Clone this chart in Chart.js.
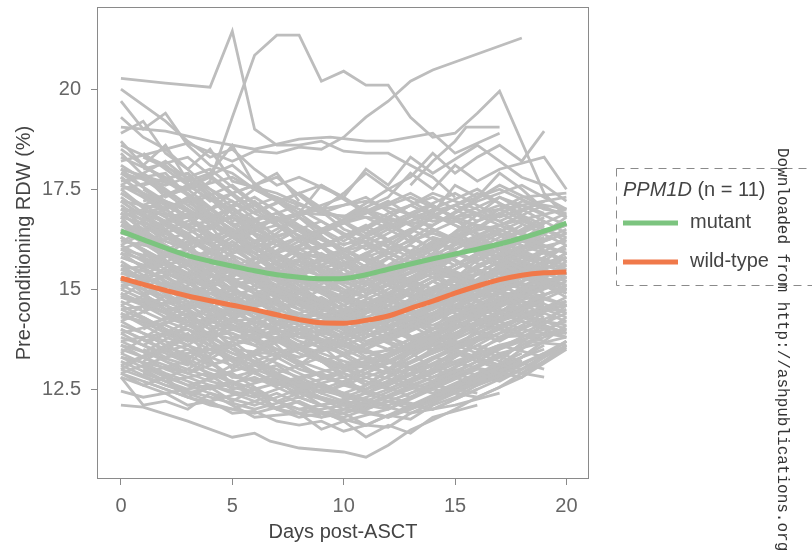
<!DOCTYPE html>
<html>
<head>
<meta charset="utf-8">
<script src="https://cdn.jsdelivr.net/npm/chart.js@4/dist/chart.umd.min.js"></script>
<style>
  html, body { margin: 0; padding: 0; background: #ffffff; }
  #wrap { position: relative; width: 812px; height: 550px; }
</style>
</head>
<body>
<div id="wrap"><canvas id="c" width="812" height="550"></canvas></div>
<script>
// Sampling days for the per-patient RDW trajectories
const days = [0, 2, 4, 6, 8, 10, 12, 14, 16, 18, 20];
const oddDays = [1, 3, 5, 7, 9, 11, 13, 15, 17, 19];
const sparseDays = [0, 3, 5, 8, 11, 14, 17, 20];
const fitDays = [0,1,2,3,4,5,6,7,8,9,10,11,12,13,14,15,16,17,18,19,20];
const xTicks = [0, 5, 10, 15, 20];
const yTicks = [12.5, 15, 17.5, 20];
const yTickLabels = ['12.5', '15', '17.5', '20'];

// Smoothed group trends (loess) by PPM1D status
const mutantFit = [16.45,16.24,16.03,15.84,15.70,15.58,15.46,15.36,15.30,15.26,15.27,15.36,15.50,15.63,15.76,15.88,16.00,16.13,16.28,16.45,16.65];
const wildTypeFit = [15.28,15.12,14.97,14.83,14.71,14.60,14.49,14.36,14.24,14.16,14.15,14.22,14.33,14.52,14.70,14.90,15.08,15.24,15.35,15.41,15.43];

// Patients measured on even days (null = no measurement)
const patientRDW = [
  [18.6,18.1,17.2,17.6,16.8,16.2,16.9,17.3,16.7,17.1,16.6],
  [18.4,17.3,17.8,16.9,17.4,16.5,16.1,16.8,17.4,16.9,null],
  [18.2,18.5,17.5,16.6,16.9,17.3,16.6,16.0,16.5,17.2,17.0],
  [18.0,17.1,16.5,17.2,16.3,15.8,16.4,17.0,17.5,16.8,16.2],
  [17.9,17.6,18.0,17.1,16.2,16.7,17.2,16.5,16.0,16.6,null],
  [17.8,16.9,16.3,15.9,16.5,15.6,15.2,15.9,16.7,17.3,17.4],
  [17.7,17.9,16.8,17.3,16.6,16.0,15.5,16.2,15.7,16.3,15.9],
  [17.6,17.0,17.4,16.4,15.8,16.3,16.8,17.4,17.0,16.4,16.9],
  [17.5,16.6,16.1,16.7,15.9,15.3,15.9,15.4,16.2,15.8,null],
  [18.5,17.7,17.0,16.2,15.6,15.9,15.2,15.6,16.1,15.5,15.8],
  [18.1,17.4,16.6,16.0,16.8,16.1,16.6,16.0,15.4,16.0,16.5],
  [17.6,18.2,17.3,16.7,17.1,16.8,17.5,16.9,16.3,null,null],
  [17.9,17.2,16.7,17.5,17.0,16.4,15.9,16.6,17.2,17.6,17.0],
  [18.3,17.8,16.9,16.4,16.0,15.5,16.2,15.7,15.2,15.9,15.6],
  [17.4,16.8,16.2,16.6,15.8,15.2,15.6,16.3,16.0,15.5,16.1],
  [17.3,16.5,16.9,15.9,15.4,15.8,15.1,15.5,16.2,16.7,16.3],
  [17.2,17.0,16.1,15.6,16.2,15.5,14.9,15.6,15.1,15.8,15.4],
  [17.1,16.3,15.7,16.1,15.3,14.8,15.4,16.0,16.6,16.1,null],
  [17.0,16.7,16.9,16.0,15.6,15.0,14.6,15.2,15.8,15.3,15.9],
  [16.9,16.1,15.5,15.0,15.7,15.2,15.8,15.3,14.8,15.5,15.0],
  [16.8,17.2,16.4,15.8,15.1,14.7,15.3,14.8,15.4,16.0,16.4],
  [16.7,16.0,15.6,16.2,15.5,15.9,15.2,15.7,16.3,15.7,null],
  [16.6,16.4,15.7,15.2,14.8,14.4,14.9,15.5,15.0,15.6,15.2],
  [16.5,15.8,16.2,15.4,15.0,15.5,14.8,14.5,15.1,14.8,15.3],
  [16.4,16.6,15.9,15.3,15.7,14.9,14.3,14.9,15.6,16.1,15.7],
  [16.3,15.6,15.1,15.6,14.9,14.5,15.0,15.6,15.2,14.7,null],
  [16.2,16.0,15.4,14.9,14.5,14.8,14.2,14.6,15.2,15.8,16.0],
  [17.0,16.2,15.8,15.1,14.6,14.2,14.7,15.3,15.9,15.4,15.0],
  [16.8,16.5,15.5,14.9,15.3,14.6,15.1,14.6,14.9,15.5,15.1],
  [16.6,15.9,15.3,15.8,15.2,14.7,14.3,14.8,15.4,15.0,15.6],
  [16.4,16.1,15.2,14.7,14.3,14.6,15.1,14.7,14.3,14.9,14.6],
  [16.9,16.6,16.0,15.4,14.8,14.3,14.0,14.6,15.2,15.7,15.3],
  [16.3,15.7,15.0,14.6,14.9,14.2,14.6,15.2,14.7,15.2,null],
  [17.2,16.4,15.6,15.2,14.5,14.1,14.5,14.1,14.6,15.2,15.8],
  [16.1,15.5,15.0,14.4,14.0,14.4,13.9,14.4,15.0,14.6,15.1],
  [16.0,15.7,14.8,14.3,14.7,14.1,13.7,14.2,14.8,15.3,14.9],
  [15.9,15.2,14.7,15.0,14.3,13.8,14.3,14.8,14.4,14.9,15.4],
  [15.8,15.4,15.1,14.5,13.9,13.6,14.0,14.5,15.1,14.7,null],
  [15.7,15.0,14.4,14.0,14.4,13.9,13.5,14.0,14.6,15.0,14.6],
  [15.6,15.3,14.6,14.2,13.8,14.2,14.6,14.2,14.7,15.2,15.5],
  [15.5,14.9,14.3,14.7,14.1,13.6,13.3,13.9,14.4,14.0,14.5],
  [15.4,15.1,14.5,13.9,13.5,13.9,14.3,14.8,14.3,14.8,15.2],
  [15.3,14.7,14.9,14.3,13.7,13.4,13.8,14.3,14.9,15.4,14.8],
  [15.2,14.8,14.2,13.8,14.2,13.7,13.2,13.6,14.2,14.6,14.2],
  [15.1,14.6,14.0,14.5,13.9,13.4,13.9,14.4,14.0,14.5,15.0],
  [15.0,14.5,14.6,14.0,13.5,13.1,13.5,14.0,14.6,14.2,null],
  [14.9,14.3,13.9,13.6,14.0,13.5,13.0,13.6,14.1,14.7,14.3],
  [14.8,14.6,14.1,13.7,13.3,13.6,14.0,13.5,14.0,14.4,14.0],
  [14.7,14.2,13.8,14.2,13.6,13.2,12.9,13.4,13.9,14.3,14.7],
  [14.6,14.0,13.6,13.2,13.6,13.0,13.4,13.9,13.5,14.0,13.8],
  [15.5,15.1,14.6,14.0,13.4,13.0,13.3,13.8,14.3,13.9,14.4],
  [15.3,14.7,14.2,13.9,14.3,14.0,14.4,14.0,14.5,15.0,15.3],
  [15.9,15.6,15.2,14.8,14.4,14.8,14.5,15.0,15.5,15.1,null],
  [16.0,15.4,14.9,15.2,14.7,14.3,14.7,14.3,14.8,15.4,15.0],
  [15.1,15.3,14.8,14.4,14.0,13.8,14.2,14.6,14.2,14.7,14.4],
  [14.8,14.4,14.9,14.5,14.1,14.5,14.1,14.5,15.0,14.6,15.1],
  [14.5,14.0,13.5,13.1,13.5,13.0,12.6,13.1,13.6,14.2,13.9],
  [14.4,13.8,13.4,13.8,13.2,12.8,13.2,13.7,13.3,13.8,14.2],
  [14.3,14.1,13.6,13.0,12.6,12.9,12.5,13.0,13.6,13.2,null],
  [14.2,13.6,13.1,13.4,12.9,12.4,12.8,13.3,13.8,14.3,13.9],
  [14.1,13.7,13.3,12.9,12.5,12.8,13.2,12.8,13.3,13.7,13.6],
  [14.0,13.5,13.0,12.7,13.1,12.6,12.3,12.7,13.2,13.0,null],
  [13.9,13.3,13.5,12.9,12.4,12.1,12.5,13.0,12.6,13.1,13.7],
  [13.8,13.4,12.9,12.5,12.8,12.3,12.7,12.4,12.9,13.4,null],
  [13.7,13.2,12.8,13.1,12.6,12.2,12.0,12.6,13.1,13.6,14.0],
  [13.6,13.0,12.6,12.3,12.7,12.4,12.1,12.5,13.0,12.8,13.6],
  [13.5,13.1,12.7,12.4,12.0,12.2,12.6,13.1,12.7,13.2,null],
  [13.4,12.9,12.5,12.8,12.3,11.9,12.3,12.8,13.3,12.9,13.7],
  [13.3,12.8,12.4,12.1,12.5,12.0,11.8,12.3,12.8,13.3,null],
  [13.2,12.7,12.9,12.4,12.0,11.8,12.2,12.0,12.5,13.0,13.6],
  [13.1,12.6,12.3,12.0,12.3,11.9,12.2,12.6,12.4,null,null],
  [13.0,12.6,12.2,12.5,11.9,12.1,11.8,12.2,12.7,13.2,null],
  [12.9,12.5,12.1,11.9,12.2,11.7,12.0,12.5,12.3,12.8,13.5],
  [12.8,12.4,12.6,12.2,11.8,12.0,12.3,12.0,12.5,null,null]
];

// Patients measured on odd days
const patientRDWOdd = [
  [18.4,17.6,18.1,17.2,17.6,16.9,17.4,16.8,17.3,16.9],
  [18.0,18.3,17.4,17.8,16.9,17.3,16.6,17.1,17.5,17.0],
  [17.8,17.1,17.6,16.7,17.0,16.4,16.9,17.4,16.8,17.2],
  [17.6,17.9,16.9,17.3,16.5,16.8,16.2,16.7,17.1,16.6],
  [17.4,16.8,17.2,16.3,16.7,16.0,16.5,16.0,16.6,16.1],
  [17.2,17.5,16.6,16.9,16.1,16.5,15.9,16.4,15.9,16.5],
  [17.0,16.4,16.8,15.9,16.3,15.7,16.1,15.6,16.2,16.8],
  [16.9,17.2,16.3,16.6,15.8,16.1,15.5,16.0,16.5,16.0],
  [16.7,16.1,16.5,15.6,15.9,15.3,15.8,16.3,15.8,16.3],
  [16.5,16.8,15.9,16.2,15.4,15.8,15.2,15.6,16.1,15.6],
  [16.3,15.7,16.1,15.2,15.6,14.9,15.4,15.9,15.4,16.0],
  [16.1,16.4,15.5,15.8,15.0,15.4,14.8,15.3,15.8,15.3],
  [15.9,15.3,15.7,14.8,15.2,14.6,15.0,14.6,15.1,15.7],
  [15.7,16.0,15.1,15.4,14.6,15.0,14.5,14.9,15.4,14.9],
  [15.5,14.9,15.3,14.5,14.8,14.2,14.7,15.2,14.7,15.3],
  [15.3,15.6,14.7,15.0,14.3,14.6,14.1,14.6,15.1,14.6],
  [15.1,14.5,14.9,14.1,14.4,13.8,14.3,14.8,14.3,14.9],
  [14.9,15.2,14.4,14.7,13.9,14.3,13.8,14.2,14.7,14.3],
  [14.7,14.1,14.5,13.7,14.1,13.5,14.0,14.5,14.0,14.6],
  [14.5,14.8,14.0,14.3,13.5,13.9,13.4,13.9,14.4,14.0],
  [14.3,13.7,14.1,13.3,13.7,13.1,13.6,14.1,13.7,14.3],
  [14.1,14.4,13.6,13.9,13.2,13.5,13.0,13.5,14.0,13.7],
  [13.9,13.3,13.7,12.9,13.3,12.8,13.2,13.7,13.3,13.9],
  [13.7,14.0,13.2,13.5,12.8,13.1,12.7,13.2,13.6,13.3],
  [13.5,12.9,13.3,12.6,12.9,12.4,12.9,13.4,13.0,13.6],
  [13.3,13.6,12.8,13.1,12.4,12.8,12.3,12.8,13.3,13.0],
  [13.1,12.6,12.9,12.2,12.6,12.1,12.6,13.0,12.7,13.3],
  [12.9,13.2,12.5,12.8,12.1,12.4,12.0,12.5,13.0,12.8],
  [17.5,16.8,16.0,15.3,14.6,14.0,13.6,13.9,14.3,14.8],
  [13.2,13.8,14.5,15.1,15.8,16.2,16.8,17.1,16.7,17.2],
  [16.8,17.2,16.5,15.6,14.9,14.3,13.8,13.5,13.9,14.2],
  [14.0,14.6,15.4,16.1,16.5,17.0,16.6,16.2,15.8,16.3],
  [18.1,17.4,16.6,15.8,15.0,14.5,14.9,15.5,16.0,15.7],
  [12.6,13.0,13.7,14.4,15.0,15.6,15.2,14.8,15.3,15.0],
  [15.8,14.9,14.1,13.4,12.8,12.5,12.9,13.6,14.2,14.8],
  [14.4,15.3,16.1,16.8,16.3,15.7,15.1,14.6,14.2,14.7],
  [16.2,15.5,14.7,13.9,13.3,12.9,13.4,14.0,14.7,15.4],
  [13.6,14.2,15.0,15.7,16.4,16.9,17.3,16.8,16.4,16.0],
  [17.3,16.5,17.0,16.2,15.4,14.8,14.2,14.9,15.6,16.2],
  [15.0,15.7,16.3,15.5,14.7,13.9,13.5,14.2,14.9,15.5],
  [12.9,12.5,13.1,13.8,13.2,12.6,13.3,14.0,14.6,15.1],
  [16.6,16.0,15.2,14.6,15.3,15.9,16.5,17.1,16.6,16.2],
  [14.8,14.2,13.5,12.9,12.4,12.9,13.5,14.1,13.8,14.4],
  [17.9,17.1,16.3,16.8,16.1,15.3,15.8,16.4,17.0,16.5],
  [15.6,16.3,15.7,15.0,14.3,13.7,14.1,14.7,15.3,16.0],
  [13.4,14.1,13.5,12.8,12.3,12.0,12.4,12.9,13.5,14.1],
  [16.0,15.2,14.4,15.0,15.6,16.3,15.8,15.3,14.9,15.5],
  [14.2,13.6,14.3,15.0,14.5,15.2,15.8,16.3,15.9,16.6],
  [17.1,17.6,16.9,16.2,15.6,15.1,15.6,16.1,16.6,17.1],
  [12.7,12.3,12.0,12.4,11.9,11.6,12.1,12.6,13.1,13.5],
  [13.0,12.4,12.7,12.0,11.8,12.2,11.9,12.4,12.9,13.4],
  [18.3,17.8,17.2,16.6,16.1,16.5,17.1,16.6,16.2,16.7]
];

// Patients with fewer visits (days 0, 3, 5, 8, 11, 14, 17, 20)
const patientRDWSparse = [
  [17.2,16.1,17.0,15.8,16.6,15.5,16.4,15.9],
  [16.4,17.3,15.9,16.8,15.4,16.5,15.6,16.8],
  [15.6,14.5,15.8,14.2,15.3,14.0,15.6,14.9],
  [14.8,15.9,14.3,15.5,13.9,15.2,14.4,15.7],
  [14.0,13.2,14.6,13.1,14.3,13.0,14.5,13.9],
  [13.4,14.5,13.0,14.1,12.6,13.8,13.2,14.6],
  [17.8,16.6,17.4,16.2,17.0,16.0,17.3,16.4],
  [16.9,15.6,16.3,15.1,15.9,14.8,16.2,15.5],
  [15.2,16.2,14.7,15.9,14.4,15.6,14.9,16.1],
  [14.4,13.7,15.1,13.5,14.7,13.4,14.0,14.8],
  [13.0,13.9,12.6,13.6,12.4,13.3,12.9,14.1],
  [16.1,17.0,15.3,16.3,14.9,16.0,15.2,16.3],
  [15.9,14.8,15.5,14.6,13.8,14.9,15.9,15.2],
  [17.5,17.9,16.7,17.4,16.3,17.1,16.0,16.6],
  [14.6,15.3,14.0,14.7,13.6,14.3,15.1,14.4],
  [13.7,14.0,13.4,12.8,13.2,12.7,13.8,13.9],
  [16.6,16.0,16.5,15.5,15.0,15.8,16.9,16.1],
  [15.4,15.0,14.5,14.9,14.1,14.4,14.7,15.4],
  [14.2,14.9,13.8,14.0,13.0,14.0,14.2,14.7],
  [16.8,15.2,15.7,14.3,14.5,15.3,15.4,15.6],
  [15.0,16.0,15.2,15.7,15.1,16.2,16.6,17.0],
  [13.3,12.9,13.6,12.3,12.9,12.5,13.4,13.8],
  [18.0,17.5,17.8,16.9,16.8,16.6,17.6,16.8],
  [17.0,16.8,16.0,16.5,15.7,15.0,15.8,16.2],
  [15.5,15.7,15.0,14.1,14.7,13.8,14.6,15.0],
  [14.9,14.2,14.8,13.8,13.5,14.6,14.9,15.8],
  [16.3,15.4,16.2,15.0,14.2,14.7,15.7,14.9],
  [13.9,14.3,13.2,13.9,13.4,13.6,13.1,14.3],
  [12.9,13.5,12.8,12.6,12.2,12.9,13.6,14.0],
  [17.4,16.3,15.6,15.4,15.8,16.4,16.0,16.6],
  [16.0,16.6,16.8,15.9,15.5,14.6,15.0,15.3],
  [14.3,15.1,15.5,14.8,14.0,15.0,15.8,16.4],
  [15.8,15.2,14.1,13.6,14.6,15.4,14.4,14.1],
  [13.6,13.1,14.2,14.4,13.3,12.9,14.1,14.6],
  [17.6,17.0,16.4,16.9,17.2,16.7,17.0,17.3],
  [15.3,14.1,14.4,15.2,14.8,13.9,14.3,14.6],
  [14.5,14.7,13.5,13.3,14.0,14.8,15.4,15.1],
  [16.2,16.9,15.5,14.9,15.6,16.8,16.5,15.7],
  [13.1,13.8,13.9,13.0,12.5,13.5,14.4,13.8],
  [16.7,15.8,15.0,16.0,16.2,15.4,15.0,15.9]
];

// Patients with denser or irregular sampling: [day, RDW %] pairs
const patientRDWDaily = [
  [[0,20.27],[2,20.15],[4,20.05],[5,21.45],[6,19.0],[7,18.6],[8,18.6],[9,18.7],[10,18.45],[11,18.4],[12,18.4],[13,18.1],[14,17.8],[15,17.3]],
  [[2,16.8],[4,17.7],[5,19.3],[6,20.85],[7,21.35],[8,21.35],[9,20.2],[10,20.45],[11,20.1],[12,20.1],[13,19.3],[14,18.8],[15,18.9],[16,19.4],[17,19.95],[19,17.4],[20,16.8]],
  [[0,19.3],[1,18.8],[2,18.5],[3,18.65],[5,18.2],[6,18.45],[7,18.4],[8,18.55],[9,18.5],[10,18.8],[11,19.3],[12,19.7],[13,20.2],[14,20.48],[18,21.28]],
  [[0,20.0],[1,19.6],[2,19.2],[3,18.7],[4,18.3],[5,18.5],[6,18.0],[7,17.6],[8,17.8],[10,17.3]],
  [[0,19.7],[1,19.0],[2,19.4],[3,18.6],[4,18.1],[5,17.9],[6,17.5],[8,17.1]],
  [[0,19.05],[2,18.95],[4,18.7],[6,18.5],[8,18.75],[9.4,18.8],[11,18.7],[12,18.7],[14,18.9],[15,18.4],[17,18.9]],
  [[0,18.9],[1,19.2],[2,18.4],[3,18.0],[4,18.5],[5,17.7],[7,17.4],[9,16.9]],
  [[0,18.7],[1,18.1],[2,18.6],[3,17.7],[4,17.9],[5,18.6],[6,17.6],[7,17.9],[8,17.2]],
  [[9,17.0],[10,17.4],[11,17.9],[12,17.5],[13,17.8],[14,18.4],[15,17.9],[16,18.3],[17,18.6],[18,18.2],[19,18.95]],
  [[10,16.8],[12,17.3],[13,17.9],[14,17.5],[15,18.1],[16,17.7],[17,18.0],[19,18.3],[20,17.5]],
  [[13,17.6],[14,18.2],[15,18.7],[15.5,19.05],[17,19.05]],
  [[8,16.9],[9,17.6],[10,17.3],[11,18.0],[12,17.6],[13,18.3],[14,17.9],[16,18.6],[17,18.2],[18,17.8],[19,17.6],[20,17.2]],
  [[12,16.5],[14,16.9],[15,17.6],[16,17.3],[17,17.9],[18,17.5],[19,17.0],[20,16.9]],
  [[0,12.1],[1,12.05],[3,11.7],[5,11.3],[6,11.4],[6.7,11.2],[8,11.03],[10,10.93],[11,10.8],[12,11.1],[13,11.48],[14,11.73],[15,12.0],[16,12.3],[17,12.55],[18,12.9],[19,13.2],[20,13.55]],
  [[0,12.45],[1,12.3],[2,12.4],[3,12.1],[4,12.2],[5,11.9],[6,11.95],[7,11.7],[8,11.6],[9,11.7],[10,11.45],[11,11.6],[12,11.55],[13,11.9],[14,12.0],[15,12.1],[16,12.25],[17,12.4]],
  [[0,12.9],[1,12.6],[2,12.8],[3,12.3],[4,12.55],[5,12.2],[6,12.5],[7,12.0],[8,12.2],[9,11.8],[10,11.9],[11,11.6],[12,11.85],[13,11.75],[14,12.1],[15,12.3],[16,12.6],[17,12.8],[18,13.0],[19,13.35],[20,13.7]],
  [[0,12.8],[1,12.1],[2,12.2],[3,12.0],[4,12.4],[5,12.1],[6,11.8],[8,11.9],[9,11.5],[10,11.7],[11,11.3],[12,11.6],[13,11.4],[14,11.8],[16,12.1]]
];

const FONT = "'Liberation Sans', Arial, Helvetica, sans-serif";
const GRAY = '#bdbdbd';
const GREEN = '#7cc47f';
const ORANGE = '#f0794a';

const datasets = [];
function addPatient(pts) {
  datasets.push({ data: pts, borderColor: GRAY, borderWidth: 2.8, pointRadius: 0, tension: 0, order: 2 });
}
patientRDW.forEach(vals => {
  const pts = [];
  vals.forEach((v, i) => { if (v !== null) pts.push({ x: days[i], y: v }); });
  addPatient(pts);
});
patientRDWOdd.forEach(vals => addPatient(vals.map((v, i) => ({ x: oddDays[i], y: v }))));
patientRDWSparse.forEach(vals => addPatient(vals.map((v, i) => ({ x: sparseDays[i], y: v }))));
patientRDWDaily.forEach(pairs => addPatient(pairs.map(p => ({ x: p[0], y: p[1] }))));

datasets.push({ data: fitDays.map((d, i) => ({ x: d, y: wildTypeFit[i] })), borderColor: ORANGE, borderWidth: 5, pointRadius: 0, cubicInterpolationMode: 'monotone', order: 0 });
datasets.push({ data: fitDays.map((d, i) => ({ x: d, y: mutantFit[i] })), borderColor: GREEN, borderWidth: 5, pointRadius: 0, cubicInterpolationMode: 'monotone', order: 1 });

// Panel frame, dashed legend and side credit line
const panelDecor = {
  id: 'panelDecor',
  beforeDatasetsDraw(chart) {
    const { ctx, chartArea: a } = chart;
    ctx.save();
    ctx.strokeStyle = '#8a8a8a';
    ctx.lineWidth = 1;
    ctx.strokeRect(Math.round(a.left) - 0.5, Math.round(a.top) - 0.5, Math.round(a.right - a.left) + 1, Math.round(a.bottom - a.top) + 1);
    ctx.restore();
  },
  afterDraw(chart) {
    const ctx = chart.ctx;
    ctx.save();
    // legend frame
    ctx.setLineDash([8, 6]);
    ctx.strokeStyle = '#8a8a8a';
    ctx.lineWidth = 1;
    ctx.strokeRect(616.5, 168.5, 230, 117);
    ctx.setLineDash([]);
    // legend title
    ctx.fillStyle = '#444444';
    ctx.textBaseline = 'middle';
    ctx.textAlign = 'left';
    ctx.font = 'italic 20px ' + FONT;
    ctx.fillText('PPM1D', 623, 190);
    const w = ctx.measureText('PPM1D').width;
    ctx.font = '20px ' + FONT;
    ctx.fillText(' (n = 11)', 623 + w, 190);
    // legend keys
    ctx.lineWidth = 5;
    ctx.lineCap = 'butt';
    ctx.strokeStyle = GREEN;
    ctx.beginPath(); ctx.moveTo(623, 223); ctx.lineTo(678, 223); ctx.stroke();
    ctx.strokeStyle = ORANGE;
    ctx.beginPath(); ctx.moveTo(623, 262); ctx.lineTo(678, 262); ctx.stroke();
    ctx.fillText('mutant', 690, 222);
    ctx.fillText('wild-type', 690, 261);
    // vertical credit line
    ctx.translate(782, 148);
    ctx.rotate(Math.PI / 2);
    ctx.font = "16px 'Liberation Mono', 'DejaVu Sans Mono', monospace";
    ctx.fillStyle = '#333333';
    ctx.textBaseline = 'middle';
    ctx.fillText('Downloaded from http://ashpublications.org', 0, 0);
    ctx.restore();
  }
};

new Chart(document.getElementById('c'), {
  type: 'line',
  data: { datasets },
  plugins: [panelDecor],
  options: {
    responsive: false,
    animation: false,
    events: [],
    layout: { padding: { left: 0, right: 224, top: 8, bottom: 0 } },
    plugins: { legend: { display: false }, tooltip: { enabled: false } },
    scales: {
      x: {
        type: 'linear',
        min: -1.03,
        max: 20.97,
        afterBuildTicks: s => { s.ticks = xTicks.map(v => ({ value: v })); },
        afterFit: s => { s.height = 72; s.paddingLeft = 0; s.paddingRight = 0; },
        ticks: { font: { family: FONT, size: 20 }, color: '#666666', padding: 9, maxRotation: 0, callback: v => String(v) },
        grid: { display: true, drawOnChartArea: false, drawTicks: true, tickLength: 7, tickColor: '#8a8a8a', tickWidth: 1 },
        border: { display: false },
        title: { display: true, text: 'Days post-ASCT', font: { family: FONT, size: 20 }, color: '#444444', padding: { top: 0, bottom: 6 } }
      },
      y: {
        type: 'linear',
        min: 10.28,
        max: 22.03,
        afterBuildTicks: s => { s.ticks = yTicks.map(v => ({ value: v })); },
        afterFit: s => { s.width = 98; s.paddingTop = 0; s.paddingBottom = 0; },
        ticks: { font: { family: FONT, size: 20 }, color: '#666666', padding: 10, callback: v => yTickLabels[yTicks.indexOf(v)] },
        grid: { display: true, drawOnChartArea: false, drawTicks: true, tickLength: 7, tickColor: '#8a8a8a', tickWidth: 1 },
        border: { display: false },
        title: { display: true, text: 'Pre-conditioning RDW (%)', font: { family: FONT, size: 20 }, color: '#444444', padding: { top: 12, bottom: 0 } }
      }
    }
  }
});
</script>
</body>
</html>
